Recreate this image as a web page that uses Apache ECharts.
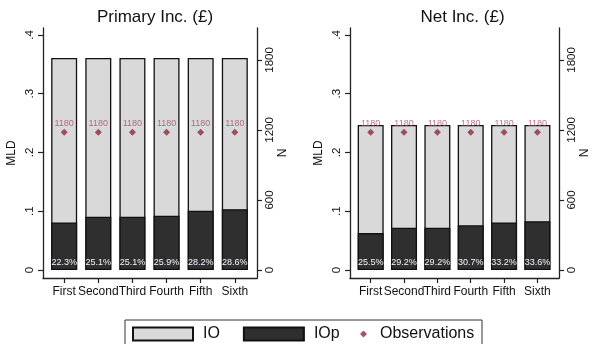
<!DOCTYPE html>
<html>
<head>
<meta charset="utf-8">
<script src="https://cdn.jsdelivr.net/npm/echarts@6/dist/echarts.min.js"></script>
<style>html,body{margin:0;padding:0;background:#fff}#c{width:592px;height:344px}</style>
</head>
<body>
<div id="c"></div>
<script>
const categories = ['First', 'Second', 'Third', 'Fourth', 'Fifth', 'Sixth'];
const panelTitles = ['Primary Inc. (£)', 'Net Inc. (£)'];
const primaryIO = [0.361, 0.361, 0.361, 0.361, 0.361, 0.361];
const primaryIOp = [0.081, 0.0907, 0.0907, 0.0925, 0.101, 0.1035];
const primaryPct = ['22.3%', '25.1%', '25.1%', '25.9%', '28.2%', '28.6%'];
const netIO = [0.2468, 0.2468, 0.2468, 0.2468, 0.2468, 0.2468];
const netIOp = [0.0628, 0.072, 0.072, 0.0762, 0.081, 0.0832];
const netPct = ['25.5%', '29.2%', '29.2%', '30.7%', '33.2%', '33.6%'];
const primaryObs = [1180, 1180, 1180, 1180, 1180, 1180];
const netObs = [1180, 1180, 1180, 1180, 1180, 1180];
const mldTicks = [0, 0.1, 0.2, 0.3, 0.4];
const mldTickLabels = ['0', '.1', '.2', '.3', '.4'];
const nTicks = [0, 600, 1200, 1800];

const FONT = 'Liberation Sans, Arial, sans-serif';
const TXT = '#111';
const catPos = categories.map((c, i) => i + 1);

const chart = echarts.init(document.getElementById('c'), null, {renderer: 'canvas'});

const grids = [
  {left: 43, top: 28, width: 214, height: 250},
  {left: 350, top: 28, width: 215, height: 250}
];
const panels = [
  {io: primaryIO, iop: primaryIOp, pct: primaryPct, obs: primaryObs},
  {io: netIO, iop: netIOp, pct: netPct, obs: netObs}
];

const xAxis = [], yAxis = [], series = [];
panels.forEach((p, gi) => {
  xAxis.push({
    type: 'value', gridIndex: gi, min: 0.38, max: 6.65,
    axisLine: {show: true, onZero: false, lineStyle: {color: '#222', width: 1.3}},
    axisTick: {show: true, customValues: catPos, length: 5, lineStyle: {color: '#222', width: 1.2}},
    axisLabel: {customValues: catPos, formatter: v => categories[Math.round(v) - 1], fontSize: 12, fontFamily: FONT, color: TXT, margin: 8},
    splitLine: {show: false}
  });
  yAxis.push({
    type: 'value', gridIndex: gi, position: 'left', min: -0.0136, max: 0.4119,
    name: 'MLD', nameLocation: 'middle', nameRotate: 90, nameGap: 25,
    nameTextStyle: {fontSize: 12, fontFamily: FONT, color: TXT},
    axisLine: {show: true, onZero: false, lineStyle: {color: '#222', width: 1.3}},
    axisTick: {show: true, customValues: mldTicks, length: 5, lineStyle: {color: '#222', width: 1.2}},
    axisLabel: {customValues: mldTicks, formatter: v => mldTickLabels[mldTicks.findIndex(t => Math.abs(t - v) < 1e-9)], rotate: 90, fontSize: 11.5, fontFamily: FONT, color: TXT, margin: 7},
    splitLine: {show: false}
  });
  yAxis.push({
    type: 'value', gridIndex: gi, position: 'right', min: -68.6, max: 2074,
    name: 'N', nameLocation: 'middle', nameRotate: 90, nameGap: 19,
    nameTextStyle: {fontSize: 12, fontFamily: FONT, color: TXT},
    axisLine: {show: true, onZero: false, lineStyle: {color: '#222', width: 1.3}},
    axisTick: {show: true, customValues: nTicks, length: 5, lineStyle: {color: '#222', width: 1.2}},
    axisLabel: {customValues: nTicks, formatter: v => String(v), rotate: 90, fontSize: 11.5, fontFamily: FONT, color: TXT, margin: 7},
    splitLine: {show: false}
  });
  series.push({
    name: 'IO', type: 'bar', xAxisIndex: gi, yAxisIndex: gi * 2, barWidth: 26, barGap: '-100%',
    data: p.io.map((v, i) => [catPos[i], v]),
    itemStyle: {color: '#d9d9d9', borderColor: '#111', borderWidth: 1.3},
    z: 2
  });
  series.push({
    name: 'IOp', type: 'bar', xAxisIndex: gi, yAxisIndex: gi * 2, barWidth: 26, barGap: '-100%',
    data: p.iop.map((v, i) => [catPos[i], v]),
    itemStyle: {color: '#2f2f2f', borderColor: '#111', borderWidth: 1.3},
    label: {show: true, position: 'insideBottom', distance: 3, formatter: o => p.pct[o.dataIndex], fontSize: 9, fontFamily: FONT, color: '#f4f6ff'},
    z: 3
  });
  series.push({
    name: 'Observations', type: 'scatter', xAxisIndex: gi, yAxisIndex: gi * 2 + 1,
    symbol: 'diamond', symbolSize: 7,
    data: p.obs.map((v, i) => [catPos[i], v]),
    itemStyle: {color: '#8f2a3a'},
    label: {show: true, position: 'top', distance: 1, formatter: o => String(o.value[1]), fontSize: 9, fontFamily: FONT, color: '#a5506a'},
    z: 5
  });
});

const option = {
  backgroundColor: '#fff',
  animation: false,
  title: panelTitles.map((t, i) => ({
    text: t, left: grids[i].left + grids[i].width / 2, top: 4, textAlign: 'center',
    textStyle: {fontSize: 17, fontWeight: 'normal', fontFamily: FONT, color: TXT}
  })),
  grid: grids,
  xAxis: xAxis,
  yAxis: yAxis,
  series: series,
  legend: [
    {data: ['IO', 'IOp'], left: 132, top: 326, padding: 0, icon: 'rect', itemWidth: 60, itemHeight: 13, itemGap: 23,
     textStyle: {fontSize: 16, fontFamily: FONT, color: TXT, padding: [0, 0, 0, 5]}},
    {data: ['Observations'], left: 360, top: 326, padding: 0, itemWidth: 7, itemHeight: 7,
     textStyle: {fontSize: 16, fontFamily: FONT, color: TXT, padding: [0, 0, 0, 8]}}
  ],
  graphic: [
    {type: 'rect', shape: {x: 125, y: 320, width: 357, height: 30}, style: {fill: 'none', stroke: '#333', lineWidth: 1}, silent: true}
  ]
};
chart.setOption(option);
</script>
</body>
</html>
